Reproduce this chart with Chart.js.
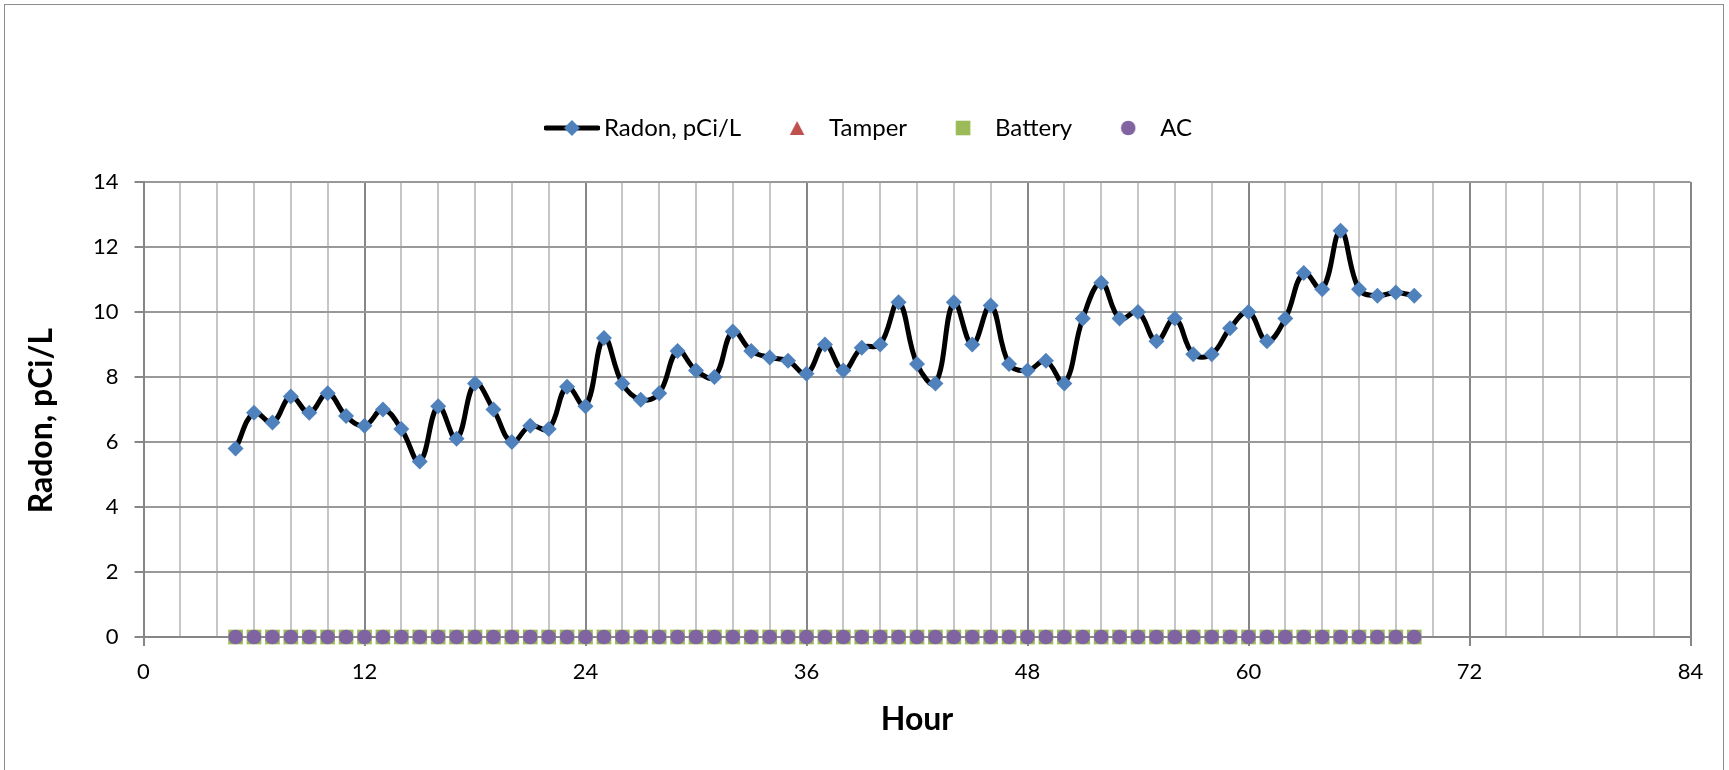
<!DOCTYPE html>
<html>
<head>
<meta charset="utf-8">
<script src="https://cdn.jsdelivr.net/npm/chart.js@4/dist/chart.umd.min.js"></script>
<style>
  html, body { margin: 0; padding: 0; background: #fff; }
  #wrap { width: 1729px; height: 770px; }
</style>
</head>
<body>
<div id="wrap"><canvas id="radonChart" width="1729" height="770"></canvas></div>
<script>
// hourly readings
const hours = [5, 6, 7, 8, 9, 10, 11, 12, 13, 14, 15, 16, 17, 18, 19, 20, 21, 22, 23, 24,
  25, 26, 27, 28, 29, 30, 31, 32, 33, 34, 35, 36, 37, 38, 39, 40, 41, 42, 43, 44,
  45, 46, 47, 48, 49, 50, 51, 52, 53, 54, 55, 56, 57, 58, 59, 60, 61, 62, 63, 64,
  65, 66, 67, 68, 69];
const radon = [5.8, 6.9, 6.6, 7.4, 6.9, 7.5, 6.8, 6.5, 7.0, 6.4, 5.4, 7.1, 6.1, 7.8, 7.0, 6.0, 6.5, 6.4, 7.7, 7.1,
  9.2, 7.8, 7.3, 7.5, 8.8, 8.2, 8.0, 9.4, 8.8, 8.6, 8.5, 8.1, 9.0, 8.2, 8.9, 9.0, 10.3, 8.4, 7.8, 10.3,
  9.0, 10.2, 8.4, 8.2, 8.5, 7.8, 9.8, 10.9, 9.8, 10.0, 9.1, 9.8, 8.7, 8.7, 9.5, 10.0, 9.1, 9.8, 11.2, 10.7,
  12.5, 10.7, 10.5, 10.6, 10.5];
const tamper = [0, 0, 0, 0, 0, 0, 0, 0, 0, 0, 0, 0, 0, 0, 0, 0, 0, 0, 0, 0,
  0, 0, 0, 0, 0, 0, 0, 0, 0, 0, 0, 0, 0, 0, 0, 0, 0, 0, 0, 0,
  0, 0, 0, 0, 0, 0, 0, 0, 0, 0, 0, 0, 0, 0, 0, 0, 0, 0, 0, 0,
  0, 0, 0, 0, 0];
const battery = [0, 0, 0, 0, 0, 0, 0, 0, 0, 0, 0, 0, 0, 0, 0, 0, 0, 0, 0, 0,
  0, 0, 0, 0, 0, 0, 0, 0, 0, 0, 0, 0, 0, 0, 0, 0, 0, 0, 0, 0,
  0, 0, 0, 0, 0, 0, 0, 0, 0, 0, 0, 0, 0, 0, 0, 0, 0, 0, 0, 0,
  0, 0, 0, 0, 0];
const ac = [0, 0, 0, 0, 0, 0, 0, 0, 0, 0, 0, 0, 0, 0, 0, 0, 0, 0, 0, 0,
  0, 0, 0, 0, 0, 0, 0, 0, 0, 0, 0, 0, 0, 0, 0, 0, 0, 0, 0, 0,
  0, 0, 0, 0, 0, 0, 0, 0, 0, 0, 0, 0, 0, 0, 0, 0, 0, 0, 0, 0,
  0, 0, 0, 0, 0];
const hourLabels = [0, 12, 24, 36, 48, 60, 72, 84];

const BLUE = "#4F81BD", RED = "#C0504D", GREEN = "#9BBB59", PURPLE = "#8064A2";
const GRID_MAJOR = "#868686", GRID_MINOR = "#c6c6c6", GRID_Y = "#999999";

Chart.defaults.font.family = "Lato, 'Open Sans', sans-serif";
Chart.defaults.color = "#000";

const toPoints = values => hours.map((h, i) => ({ x: h, y: values[i] }));

// legend icons, drawn on small canvases
function makeIcon(draw) {
  const c = document.createElement("canvas");
  c.width = 56;
  c.height = 20;
  draw(c.getContext("2d"), 28, 10);
  return c;
}
const icons = [
  makeIcon((g, cx, cy) => {
    g.strokeStyle = "#000";
    g.lineWidth = 5;
    g.lineCap = "round";
    g.beginPath(); g.moveTo(2, cy); g.lineTo(54, cy); g.stroke();
    g.fillStyle = BLUE;
    g.beginPath(); g.moveTo(cx, cy - 8); g.lineTo(cx + 8, cy); g.lineTo(cx, cy + 8); g.lineTo(cx - 8, cy); g.closePath(); g.fill();
  }),
  makeIcon((g, cx, cy) => {
    g.fillStyle = RED;
    g.beginPath(); g.moveTo(cx, cy - 7); g.lineTo(cx + 7.3, cy + 7); g.lineTo(cx - 7.3, cy + 7); g.closePath(); g.fill();
  }),
  makeIcon((g, cx, cy) => {
    g.fillStyle = GREEN;
    g.fillRect(cx - 7.3, cy - 7.3, 14.6, 14.6);
  }),
  makeIcon((g, cx, cy) => {
    g.fillStyle = PURPLE;
    g.beginPath(); g.arc(cx, cy, 7.3, 0, Math.PI * 2); g.fill();
  })
];

const frame = {
  id: "frame",
  beforeDraw(chart) {
    const g = chart.ctx;
    g.save();
    g.fillStyle = "#fff";
    g.fillRect(0, 0, chart.width, chart.height);
    g.strokeStyle = "#8c8c8c";
    g.lineWidth = 1;
    g.strokeRect(4.5, 4.5, 1719, 800);
    g.restore();
  }
};

new Chart(document.getElementById("radonChart"), {
  type: "line",
  data: {
    datasets: [
      {
        label: "Radon, pCi/L",
        data: toPoints(radon),
        borderColor: "#000",
        borderWidth: 5,
        tension: 0.4,
        pointStyle: "rectRot",
        pointRadius: 8,
        pointBackgroundColor: BLUE,
        pointBorderColor: BLUE,
        pointBorderWidth: 0,
        order: 0
      },
      {
        label: "Tamper",
        data: toPoints(tamper),
        showLine: false,
        pointStyle: "triangle",
        pointRadius: 7,
        pointBackgroundColor: RED,
        pointBorderColor: RED,
        clip: false,
        order: 3
      },
      {
        label: "Battery",
        data: toPoints(battery),
        showLine: false,
        pointStyle: "rect",
        pointRadius: 10.4,
        pointBackgroundColor: GREEN,
        pointBorderColor: GREEN,
        pointBorderWidth: 0,
        clip: false,
        order: 2
      },
      {
        label: "AC",
        data: toPoints(ac),
        showLine: false,
        pointStyle: "circle",
        pointRadius: 7.3,
        pointBackgroundColor: PURPLE,
        pointBorderColor: PURPLE,
        pointBorderWidth: 0,
        clip: false,
        order: 1
      }
    ]
  },
  options: {
    responsive: false,
    animation: false,
    layout: { padding: { left: 53.5, right: 38.5, top: 80, bottom: 0 } },
    plugins: {
      tooltip: { enabled: false },
      legend: {
        position: "top",
        labels: {
          usePointStyle: true,
          pointStyleWidth: 40,
          padding: 36,
          font: { size: 24 },
          color: "#000",
          generateLabels: chart => chart.data.datasets.map((ds, i) => ({
            text: ds.label,
            pointStyle: icons[i],
            fillStyle: "transparent",
            strokeStyle: "transparent",
            lineWidth: 0,
            hidden: false,
            fontColor: "#000",
            datasetIndex: i
          }))
        }
      },
      // empty title used as a spacer between legend and plot
      title: {
        display: true,
        text: "",
        weight: 500,
        font: { size: 10 },
        padding: { top: 20, bottom: 0 }
      }
    },
    scales: {
      x: {
        type: "linear",
        min: 0,
        max: 84,
        ticks: {
          stepSize: 2,
          autoSkip: false,
          maxRotation: 0,
          padding: 13,
          font: { size: 22 },
          color: "#000",
          callback: v => hourLabels.includes(v) ? String(v) : ""
        },
        grid: {
          color: c => c.tick && c.tick.value % 12 === 0 ? GRID_MAJOR : GRID_MINOR,
          lineWidth: 2,
          tickLength: 9,
          tickColor: c => c.tick && c.tick.value % 12 === 0 ? GRID_MAJOR : "rgba(0,0,0,0)"
        },
        border: { color: GRID_MAJOR, width: 2 },
        title: {
          display: true,
          text: "Hour",
          color: "#000",
          font: { size: 32, weight: "bold" },
          padding: { top: 0, bottom: 31 }
        },
        afterFit: scale => { scale.height = 133; }
      },
      y: {
        min: 0,
        max: 14,
        ticks: {
          stepSize: 2,
          padding: 16,
          font: { size: 22 },
          color: "#000"
        },
        grid: {
          color: GRID_Y,
          lineWidth: 2,
          tickLength: 9,
          tickColor: GRID_MAJOR
        },
        border: { color: GRID_MAJOR, width: 2 },
        title: {
          display: true,
          text: "Radon, pCi/L\u00a0\u00a0\u00a0",
          color: "#000",
          font: { size: 32, weight: "bold" },
          padding: { top: -30.7, bottom: 0 }
        },
        afterFit: scale => { scale.width = 90; }
      }
    }
  },
  plugins: [frame]
});
</script>
</body>
</html>
